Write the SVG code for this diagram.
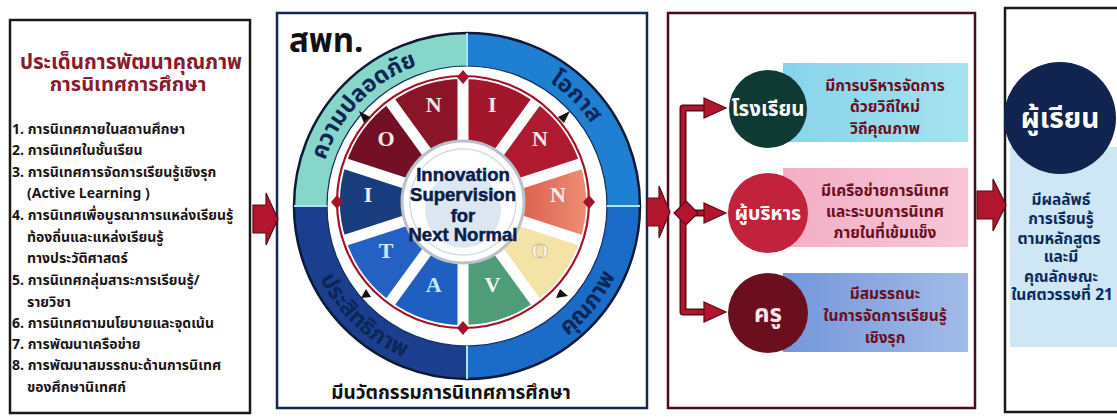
<svg xmlns="http://www.w3.org/2000/svg" width="1117" height="419" viewBox="0 0 1117 419">
<defs>
<style>
.th{font-family:"Noto Sans Thai","Noto Sans","DejaVu Sans",sans-serif;font-weight:bold}
.en{font-family:"Liberation Sans",Arial,sans-serif;font-weight:bold}
.ser{font-family:"Liberation Serif","Times New Roman",serif;font-weight:bold}
.item{font-size:14px;fill:#1c1416}
.ring{font-size:23px;fill:#0c2656}
.seg{font-size:22px;text-anchor:middle}
.ctr{font-size:18.5px;fill:#0b1d4a;stroke:#0b1d4a;stroke-width:0.5;text-anchor:middle}
.box{font-size:15.5px;fill:#6a0e1e;text-anchor:middle}
.out{font-size:15.5px;fill:#0b2a5c;text-anchor:middle}
.spoke{stroke:#ffffff;stroke-width:11}
.red{fill:#b3142e;stroke:#5c0a16;stroke-width:1.2}
</style>
<linearGradient id="gCyan" x1="0" x2="1" y1="0" y2="0"><stop offset="0" stop-color="#86d4ea"/><stop offset="1" stop-color="#a6e2ef"/></linearGradient>
<linearGradient id="gPink" x1="0" x2="1" y1="0" y2="0"><stop offset="0" stop-color="#f3aec5"/><stop offset="1" stop-color="#f7c6d6"/></linearGradient>
<linearGradient id="gBlue" x1="0" x2="1" y1="0" y2="0"><stop offset="0" stop-color="#7496da"/><stop offset="1" stop-color="#a2bbe8"/></linearGradient>
<linearGradient id="gCoral" x1="0" x2="1" y1="0" y2="0"><stop offset="0" stop-color="#d9604e"/><stop offset="1" stop-color="#f08c74"/></linearGradient>
<path id="pTL" d="M318,206 A149,149 0 0 1 467,57"/>
<path id="pTR" d="M467,57 A149,149 0 0 1 616,206"/>
<path id="pBR" d="M467,370 A164,164 0 0 0 631,206"/>
<path id="pBL" d="M303,206 A164,164 0 0 0 467,370"/>
</defs>
<rect width="1117" height="419" fill="#ffffff"/>

<g id="issues">
<rect x="10" y="20" width="240" height="393" fill="#ffffff" stroke="#1a1a1a" stroke-width="2.5"/>
<text class="th" x="131" y="69" font-size="20.5" fill="#8a1a2c" text-anchor="middle">ประเด็นการพัฒนาคุณภาพ</text>
<text class="th" x="128" y="91" font-size="20" fill="#8a1a2c" text-anchor="middle">การนิเทศการศึกษา</text>
<text class="th item" x="12" y="134">1. การนิเทศภายในสถานศึกษา</text>
<text class="th item" x="12" y="155">2. การนิเทศในชั้นเรียน</text>
<text class="th item" x="12" y="177">3. การนิเทศการจัดการเรียนรู้เชิงรุก</text>
<text class="th item" x="27" y="198">(Active Learning )</text>
<text class="th item" x="12" y="220">4. การนิเทศเพื่อบูรณาการแหล่งเรียนรู้</text>
<text class="th item" x="27" y="242">ท้องถิ่นและแหล่งเรียนรู้</text>
<text class="th item" x="27" y="263">ทางประวัติศาสตร์</text>
<text class="th item" x="12" y="285">5. การนิเทศกลุ่มสาระการเรียนรู้/</text>
<text class="th item" x="27" y="307">รายวิชา</text>
<text class="th item" x="12" y="328">6. การนิเทศตามนโยบายและจุดเน้น</text>
<text class="th item" x="12" y="349">7. การพัฒนาเครือข่าย</text>
<text class="th item" x="12" y="370">8. การพัฒนาสมรรถนะด้านการนิเทศ</text>
<text class="th item" x="27" y="392">ของศึกษานิเทศก์</text>
</g>

<g id="office">
<rect x="277" y="13" width="370" height="395" fill="#ffffff" stroke="#13294d" stroke-width="2.5"/>
<text class="th" x="289" y="52" font-size="33" fill="#111111">สพท.</text>
<g id="ring">
<path d="M294,206 A173,173 0 0 1 467,33 L467,66 A140,140 0 0 0 327,206 Z" fill="#86d6c9"/>
<path d="M467,33 A173,173 0 0 1 640,206 L607,206 A140,140 0 0 0 467,66 Z" fill="#1f7fd2"/>
<path d="M640,206 A173,173 0 0 1 467,379 L467,346 A140,140 0 0 0 607,206 Z" fill="#1a6cc8"/>
<path d="M467,379 A173,173 0 0 1 294,206 L327,206 A140,140 0 0 0 467,346 Z" fill="#1b3f8e"/>
<circle cx="467" cy="206" r="173" fill="none" stroke="#0d1a33" stroke-width="2.5"/>
<circle cx="467" cy="206" r="140" fill="none" stroke="#12305e" stroke-width="1.2"/>
<path d="M467,33 V66 M467,346 V379 M294,206 H327 M607,206 H640" stroke="#a8e6f2" stroke-width="2"/>
<text class="th ring"><textPath href="#pTL" startOffset="49%" text-anchor="middle">ความปลอดภัย</textPath></text>
<text class="th ring"><textPath href="#pTR" startOffset="50%" text-anchor="middle">โอกาส</textPath></text>
<text class="th ring"><textPath href="#pBR" startOffset="57%" text-anchor="middle">คุณภาพ</textPath></text>
<text class="th ring" fill="#0d2150"><textPath href="#pBL" startOffset="52%" text-anchor="middle">ประสิทธิภาพ</textPath></text>
</g>
<g id="wheel">
<path d="M390.7,102.5 A123,123 0 0 1 463,79 L463,142 A60,60 0 0 0 427.7,153.5 Z" fill="#8c1428"/>
<path d="M463,79 A123,123 0 0 1 535.3,102.5 L498.3,153.5 A60,60 0 0 0 463,142 Z" fill="#a3172c"/>
<path d="M535.3,102.5 A123,123 0 0 1 580,164 L520.1,183.5 A60,60 0 0 0 498.3,153.5 Z" fill="#b01a30"/>
<path d="M580,164 A123,123 0 0 1 580,240 L520.1,220.5 A60,60 0 0 0 520.1,183.5 Z" fill="url(#gCoral)"/>
<path d="M580,240 A123,123 0 0 1 535.3,301.5 L498.3,250.5 A60,60 0 0 0 520.1,220.5 Z" fill="#f4e3a6"/>
<path d="M535.3,301.5 A123,123 0 0 1 463,325 L463,262 A60,60 0 0 0 498.3,250.5 Z" fill="#4f9d78"/>
<path d="M463,325 A123,123 0 0 1 390.7,301.5 L427.7,250.5 A60,60 0 0 0 463,262 Z" fill="#1f5fbf"/>
<path d="M390.7,301.5 A123,123 0 0 1 346,240 L405.9,220.5 A60,60 0 0 0 427.7,250.5 Z" fill="#2461c2"/>
<path d="M346,240 A123,123 0 0 1 346,164 L405.9,183.5 A60,60 0 0 0 405.9,220.5 Z" fill="#183c7e"/>
<path d="M346,164 A123,123 0 0 1 390.7,102.5 L427.7,153.5 A60,60 0 0 0 405.9,183.5 Z" fill="#741026"/>
<g class="spoke">
<line x1="463" y1="202" x2="388.5" y2="99.4"/>
<line x1="463" y1="202" x2="463" y2="75"/>
<line x1="463" y1="202" x2="537.5" y2="99.4"/>
<line x1="463" y1="202" x2="583.8" y2="162.7"/>
<line x1="463" y1="202" x2="583.8" y2="241.3"/>
<line x1="463" y1="202" x2="537.5" y2="304.6"/>
<line x1="463" y1="202" x2="463" y2="329"/>
<line x1="463" y1="202" x2="388.5" y2="304.6"/>
<line x1="463" y1="202" x2="342.2" y2="241.3"/>
<line x1="463" y1="202" x2="342.2" y2="162.7"/>
</g>
<circle cx="463" cy="202" r="126" fill="none" stroke="#a3142c" stroke-width="2.2"/>
<g fill="#a3142c">
<polygon points="463,70 469,77 463,84 457,77"/>
<polygon points="589,195 595,202 589,209 583,202"/>
<polygon points="463,321 469,328 463,335 457,328"/>
<polygon points="337,195 343,202 337,209 331,202"/>
</g>
<g fill="#111111">
<polygon points="359,111 364,123 370,117"/>
<polygon points="570,111 564,123 558,117"/>
<polygon points="568,296 560,289 556,298"/>
<polygon points="361,298 366,289 371,297"/>
</g>
<text class="ser seg" x="433.6" y="111.7" fill="#f4e4e8">N</text>
<text class="ser seg" x="492.4" y="111.7" fill="#f4e4e8">I</text>
<text class="ser seg" x="539.9" y="146.1" fill="#f4e4e8">N</text>
<text class="ser seg" x="558" y="202" fill="#f8ece8">N</text>
<text class="ser seg" x="539.9" y="257.9" fill="#fbf6e6" stroke="#c9bf9a" stroke-width="0.8">O</text>
<text class="ser seg" x="492.4" y="292.3" fill="#eef7f0">V</text>
<text class="ser seg" x="433.6" y="292.3" fill="#bfe8ff">A</text>
<text class="ser seg" x="386.1" y="257.9" fill="#d6e8ff">T</text>
<text class="ser seg" x="368" y="202" fill="#e4ecff">I</text>
<text class="ser seg" x="386.1" y="146.1" fill="#f4e4e8">O</text>
<circle cx="463" cy="202" r="61" fill="#ffffff" stroke="#b9c1ca" stroke-width="3"/>
<circle cx="463" cy="202" r="53" fill="none" stroke="#d6dce3" stroke-width="1.5"/>
<circle cx="463" cy="210" r="38" fill="#dde7f1"/>
<text class="en ctr" x="463" y="181">Innovation</text>
<text class="en ctr" x="463" y="201">Supervision</text>
<text class="en ctr" x="463" y="222">for</text>
<text class="en ctr" x="463" y="241">Next Normal</text>
</g>
<text class="th" x="451" y="399" font-size="19" fill="#111111" text-anchor="middle">มีนวัตกรรมการนิเทศการศึกษา</text>
</g>

<g id="results">
<rect x="668" y="13" width="307" height="395" fill="#ffffff" stroke="#4a0c18" stroke-width="2.5"/>
<g id="school">
<rect x="783" y="63" width="185" height="79" fill="url(#gCyan)"/>
<circle cx="768" cy="109" r="39" fill="#0f3a33"/>
<text class="th" x="768" y="116" font-size="20.5" fill="#ffffff" text-anchor="middle">โรงเรียน</text>
<text class="th box" x="885" y="91">มีการบริหารจัดการ</text>
<text class="th box" x="885" y="112">ด้วยวิถีใหม่</text>
<text class="th box" x="885" y="134">วิถีคุณภาพ</text>
</g>
<g id="admin">
<rect x="783" y="168" width="185" height="79" fill="url(#gPink)"/>
<circle cx="768" cy="213" r="40" fill="#c3223c"/>
<text class="th" x="768" y="220" font-size="19.5" fill="#ffffff" text-anchor="middle">ผู้บริหาร</text>
<text class="th box" x="885" y="196">มีเครือข่ายการนิเทศ</text>
<text class="th box" x="885" y="217">และระบบการนิเทศ</text>
<text class="th box" x="885" y="238">ภายในที่เข้มแข็ง</text>
</g>
<g id="teacher">
<rect x="783" y="273" width="185" height="79" fill="url(#gBlue)"/>
<circle cx="768" cy="313" r="40" fill="#6b0f1f"/>
<text class="th" x="768" y="322" font-size="24" fill="#ffe6ee" text-anchor="middle">ครู</text>
<text class="th box" x="885" y="299">มีสมรรถนะ</text>
<text class="th box" x="885" y="321">ในการจัดการเรียนรู้</text>
<text class="th box" x="885" y="343">เชิงรุก</text>
</g>
</g>

<g id="learner">
<rect x="1005" y="8" width="130" height="404" fill="#ffffff" stroke="#1a1a1a" stroke-width="2.5"/>
<rect x="1010" y="147" width="110" height="200" fill="#cfe6f5"/>
<circle cx="1060" cy="118" r="56" fill="#10244f"/>
<text class="th" x="1060" y="128" font-size="28" fill="#ffffff" text-anchor="middle">ผู้เรียน</text>
<text class="th out" x="1061" y="205">มีผลลัพธ์</text>
<text class="th out" x="1061" y="224">การเรียนรู้</text>
<text class="th out" x="1059" y="244">ตามหลักสูตร</text>
<text class="th out" x="1061" y="262">และมี</text>
<text class="th out" x="1061" y="282">คุณลักษณะ</text>
<text class="th out" x="1062" y="300">ในศตวรรษที่ 21</text>
</g>

<g id="connectors">
<polygon class="red" points="253,205 266,205 266,193 278,219 266,245 266,233 253,233"/>
<polygon class="red" points="647,198 659,198 659,186 670,212 659,238 659,226 647,226"/>
<path d="M708,108 H683 V312 H708 M683,213 H708" fill="none" stroke="#5c0a16" stroke-width="7" stroke-linejoin="round"/>
<path d="M708,108 H683 V312 H708 M683,213 H708" fill="none" stroke="#b3142e" stroke-width="4" stroke-linejoin="round"/>
<polygon class="red" points="686,201 698,213 686,225 674,213"/>
<polygon class="red" points="704,98 726,108 704,118"/>
<polygon class="red" points="704,203 726,213 704,223"/>
<polygon class="red" points="704,302 726,312 704,322"/>
<polygon class="red" points="977,191 993,191 993,179 1006,205 993,231 993,219 977,219"/>
</g>
</svg>
